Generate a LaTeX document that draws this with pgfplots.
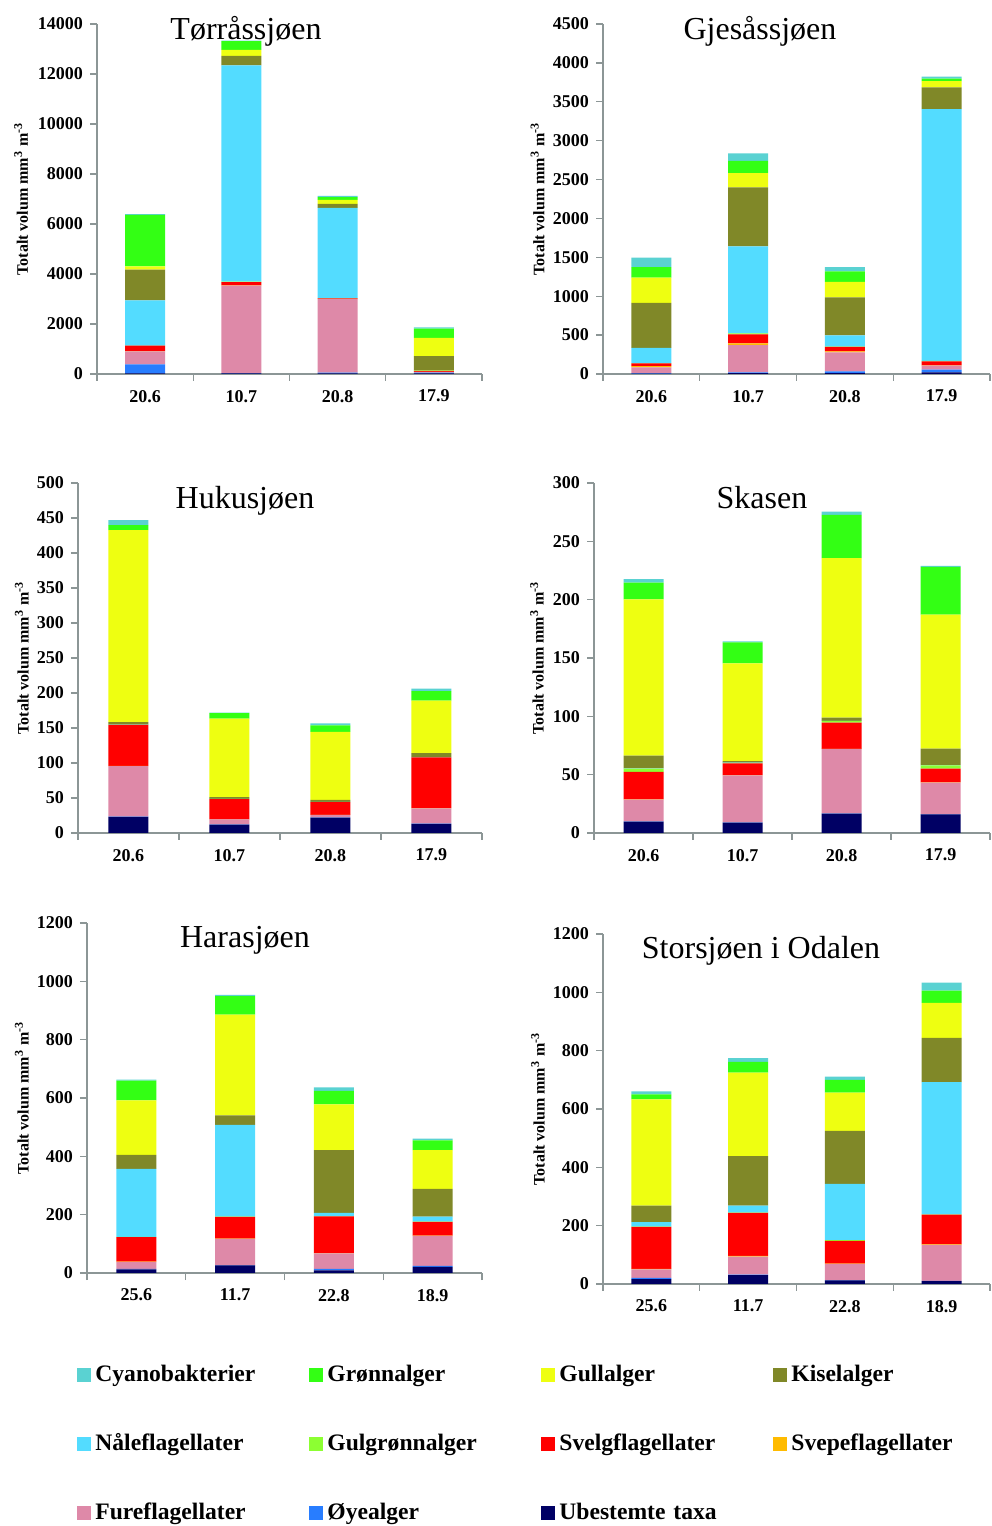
\documentclass[border=0pt]{standalone}
\usepackage{fontspec}
\setmainfont{Liberation Serif}
\usepackage{pgfplots}
\usepackage{pgfplotstable}
\pgfplotsset{compat=1.18}
\definecolor{axisgray}{RGB}{140,150,150}
\definecolor{cU}{RGB}{0,0,100}
\definecolor{cO}{RGB}{40,125,255}
\definecolor{cF}{RGB}{222,137,168}
\definecolor{cSp}{RGB}{255,187,0}
\definecolor{cSv}{RGB}{255,0,0}
\definecolor{cGg}{RGB}{140,255,50}
\definecolor{cN}{RGB}{83,220,255}
\definecolor{cK}{RGB}{128,136,40}
\definecolor{cGu}{RGB}{238,255,17}
\definecolor{cGr}{RGB}{51,255,20}
\definecolor{cC}{RGB}{90,210,210}

\pgfplotstableread{
x U O F Sp Sv Gg N K Gu Gr C
0 20 360 520 10 220 5 1810 1225 130 2065 30
1 20 10 3500 10 130 20 8650 387 240 347 20
2 20 30 2940 10 20 5 3620 160 160 106 53
3 20 30 30 5 40 15 5 566 733 372 53
}\tA
\pgfplotstableread{
x U O F Sp Sv Gg N K Gu Gr C
0 5 5 75 15 35 5 195 578 325 137 120
1 10 10 352 22 116 12 1118 758 184 158 95
2 10 25 244 13 56 5 145 488 197 137 55
3 20 36 51 5 51 5 3236 282 78 34 26
}\tB
\pgfplotstableread{
x U O F Sp Sv Gg N K Gu Gr C
0 23 0.5 72 0.3 58.5 0.2 0.3 3.7 274.3 7.1 7.2
1 12 0.3 7 0.2 29 0.2 0.2 2.4 112 8 0.5
2 22 0.3 3.5 0.2 18 0.2 0.2 2.9 97 9.5 2.9
3 13 0.3 22 0.2 72.5 0.2 0.2 5.6 75.2 13.4 3.8
}\tC
\pgfplotstableread{
x U O F Sp Sv Gg N K Gu Gr C
0 9.7 0.2 18.7 0.2 23.5 2.8 0.3 10.9 134 14.3 3.1
1 8.9 0.2 40.3 0.2 10.1 0.5 0.2 1.2 83.7 18 0.9
2 16.6 0.2 55.2 0.2 22.4 1.4 0.2 2.7 136.8 36.9 2.8
3 16 0.2 26.9 0.2 11.8 2.9 0.2 14.1 114.8 40.9 0.9
}\tD
\pgfplotstableread{
x U O F Sp Sv Gg N K Gu Gr C
0 12 2 23 2 84 1 233 48 187 67.5 3.4
1 26 1 90 1 74 1 315 32 346 63 4.6
2 9 5 53 1 126 1 11 215 157 46 12.6
3 21 3.4 103 1 47 1 17 95 133 33 6
}\tE
\pgfplotstableread{
x U O F Sp Sv Gg N K Gu Gr C
0 17 4 29 2 144 1 15 57 364 17 10.5
1 30 2 62 2 148 1 24 169 287 36.5 12.5
2 12 1 55 2 78 2 193 182 131 43.5 11.5
3 10 0.5 124 1 102 1 454 151 120 42 27.5
}\tF

\newcommand{\stackplots}[1]{%
  \addplot[fill=cU] table[x=x,y=U]{#1};
  \addplot[fill=cO] table[x=x,y=O]{#1};
  \addplot[fill=cF] table[x=x,y=F]{#1};
  \addplot[fill=cSp] table[x=x,y=Sp]{#1};
  \addplot[fill=cSv] table[x=x,y=Sv]{#1};
  \addplot[fill=cGg] table[x=x,y=Gg]{#1};
  \addplot[fill=cN] table[x=x,y=N]{#1};
  \addplot[fill=cK] table[x=x,y=K]{#1};
  \addplot[fill=cGu] table[x=x,y=Gu]{#1};
  \addplot[fill=cGr] table[x=x,y=Gr]{#1};
  \addplot[fill=cC] table[x=x,y=C]{#1};
}

\pgfplotsset{
  /pgf/number format/assume math mode=true,
  /pgf/number format/1000 sep={},
  panel/.style={
    scale only axis, height=175pt, anchor=south west,
    ybar stacked, bar width=20pt,
    every axis plot/.append style={draw=none},
    ymin=0, xmin=-0.5, xmax=3.5,
    axis lines=left, axis line style={draw=axisgray, -, line width=0.7pt},
    tick align=outside, major tick length=3.5pt,
    tick style={draw=axisgray, line width=0.7pt},
    xtick={-0.5,0.5,1.5,2.5,3.5}, xticklabels={,,,,},
    extra x ticks={0,1,2,3},
    extra x tick style={major tick length=0pt},
    scaled y ticks=false,
    ticklabel style={font=\bfseries\fontsize{9}{9}\selectfont},
    xticklabel style={yshift=-4.5pt},
    ylabel={Totalt volum mm\textsuperscript{3} m\textsuperscript{-3}},
    ylabel style={font=\bfseries\fontsize{8}{8}\selectfont, anchor=center},
    clip=false,
  }
}

\begin{document}
\begin{tikzpicture}
\useasboundingbox (0,0) rectangle (495.5pt,763pt);

% Torrassjoen
\begin{axis}[panel, at={(48.5pt,576pt)}, width=192.5pt,
  ymax=14000, ytick={0,2000,...,14000},
  extra x tick labels={20.6,10.7,20.8,17.9},
  ylabel style={at={(axis description cs:-0.197,0.5)}}]
\stackplots{\tA}
\end{axis}

% Gjesassjoen
\begin{axis}[panel, at={(301.5pt,576pt)}, width=193.5pt,
  ymax=4500, ytick={0,500,...,4500},
  extra x tick labels={20.6,10.7,20.8,17.9},
  ylabel style={at={(axis description cs:-0.169,0.5)}}]
\stackplots{\tB}
\end{axis}

% Hukusjoen
\begin{axis}[panel, at={(39pt,346.5pt)}, width=202pt,
  ymax=500, ytick={0,50,...,500},
  extra x tick labels={20.6,10.7,20.8,17.9},
  ylabel style={at={(axis description cs:-0.139,0.5)}}]
\stackplots{\tC}
\end{axis}

% Skasen
\begin{axis}[panel, at={(297pt,346.5pt)}, width=198pt,
  ymax=300, ytick={0,50,...,300},
  extra x tick labels={20.6,10.7,20.8,17.9},
  ylabel style={at={(axis description cs:-0.144,0.5)}}]
\stackplots{\tD}
\end{axis}

% Harasjoen
\begin{axis}[panel, at={(43.5pt,126.5pt)}, width=197.5pt,
  ymax=1200, ytick={0,200,...,1200},
  extra x tick labels={25.6,11.7,22.8,18.9},
  ylabel style={at={(axis description cs:-0.165,0.5)}}]
\stackplots{\tE}
\end{axis}

% Storsjoen i Odalen
\begin{axis}[panel, at={(301.5pt,121pt)}, width=193.5pt,
  ymax=1200, ytick={0,200,...,1200},
  extra x tick labels={25.6,11.7,22.8,18.9},
  ylabel style={at={(axis description cs:-0.168,0.5)}}]
\stackplots{\tF}
\end{axis}

% legend
\begin{axis}[at={(0pt,0pt)}, anchor=south west, scale only axis,
  width=495.5pt, height=763pt, hide axis,
  xmin=0, xmax=1, ymin=0, ymax=1,
  legend columns=4,
  legend cell align=left,
  legend image code/.code={\fill[#1, draw=none] (0pt,-3.5pt) rectangle (7pt,3.5pt);},
  legend style={draw=none, fill=none, inner sep=0pt,
    at={(0.0777,0.1068)}, anchor=north west,
    font=\bfseries\fontsize{11.8}{14}\selectfont,
    row sep=22.5pt, column sep=0pt,
    nodes={text width=105pt, inner xsep=2pt, inner ysep=0pt, text height=9pt, text depth=3pt}},
  legend entries={Cyanobakterier,Grønnalger,Gullalger,Kiselalger,Nåleflagellater,Gulgrønnalger,Svelgflagellater,Svepeflagellater,Fureflagellater,Øyealger,Ubestemte taxa}]
\addlegendimage{fill=cC, draw=none}
\addlegendimage{fill=cGr, draw=none}
\addlegendimage{fill=cGu, draw=none}
\addlegendimage{fill=cK, draw=none}
\addlegendimage{fill=cN, draw=none}
\addlegendimage{fill=cGg, draw=none}
\addlegendimage{fill=cSv, draw=none}
\addlegendimage{fill=cSp, draw=none}
\addlegendimage{fill=cF, draw=none}
\addlegendimage{fill=cO, draw=none}
\addlegendimage{fill=cU, draw=none}
\end{axis}

% titles
\node[anchor=base, font=\fontsize{16}{16}\selectfont] at (123pt,743pt) {Tørråssjøen};
\node[anchor=base, font=\fontsize{16}{16}\selectfont] at (380pt,743pt) {Gjesåssjøen};
\node[anchor=base, font=\fontsize{16}{16}\selectfont] at (122.5pt,508.5pt) {Hukusjøen};
\node[anchor=base, font=\fontsize{16}{16}\selectfont] at (381pt,508.5pt) {Skasen};
\node[anchor=base, font=\fontsize{16}{16}\selectfont] at (122.5pt,289pt) {Harasjøen};
\node[anchor=base, font=\fontsize{16}{16}\selectfont] at (380.5pt,283.5pt) {Storsjøen i Odalen};
\end{tikzpicture}
\end{document}
